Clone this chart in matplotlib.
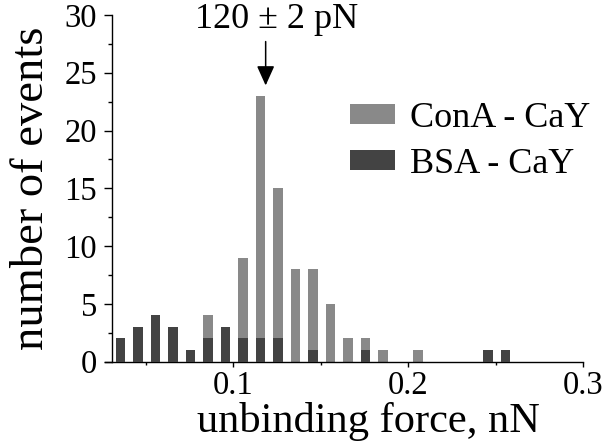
import matplotlib
matplotlib.use('Agg')
import matplotlib.pyplot as plt
from matplotlib.patches import Patch
from matplotlib.ticker import MultipleLocator

# histogram bins (nN) and counts
bin_centers = [0.0355, 0.0455, 0.0555, 0.0655, 0.0755, 0.0855, 0.0955, 0.1055,
               0.1155, 0.1255, 0.1355, 0.1455, 0.1555, 0.1655, 0.1755, 0.1855,
               0.1955, 0.2055, 0.2155, 0.2255, 0.2355, 0.2455, 0.2555]
conA_counts = [0, 0, 0, 0, 0, 4, 0, 9, 23, 15, 8, 8, 5, 2, 2, 1, 0, 1, 0, 0, 0, 0, 0]
bsa_counts = [2, 3, 4, 3, 1, 2, 3, 2, 2, 2, 0, 1, 0, 0, 1, 0, 0, 0, 0, 0, 0, 1, 1]

series_names = ['ConA - CaY', 'BSA - CaY']
peak_label = '120 \u00b1 2 pN'
peak_force = 0.1185

light = '#898989'
dark = '#434343'

plt.rcParams['font.family'] = ['Liberation Serif', 'DejaVu Serif']

fig = plt.figure(figsize=(6.06, 4.45), dpi=100)
ax = fig.add_axes([105 / 606, 1 - 361.5 / 445, (583.3 - 105) / 606, (361.5 - 15) / 445])

ax.bar(bin_centers, conA_counts, width=0.0055, color=light, edgecolor='none', zorder=2)
ax.bar(bin_centers, bsa_counts, width=0.0055, color=dark, edgecolor='none', zorder=3)

ax.set_xlim(0.0267, 0.3)
ax.set_ylim(0, 30)
ax.spines['top'].set_visible(False)
ax.spines['right'].set_visible(False)
ax.spines['left'].set_position(('data', 0.0306))
for s in ['left', 'bottom']:
    ax.spines[s].set_linewidth(1.0)

ax.xaxis.set_major_locator(MultipleLocator(0.1))
ax.xaxis.set_minor_locator(MultipleLocator(0.05))
ax.yaxis.set_major_locator(MultipleLocator(5))
ax.yaxis.set_minor_locator(MultipleLocator(2.5))
ax.set_xticks([0.1, 0.2, 0.3])
ax.set_xticklabels(['0.1', '0.2', '0.3'])

ax.tick_params(axis='y', which='major', direction='out', length=5.8, width=1.0,
               labelsize=23.5, pad=5)
ax.tick_params(axis='y', which='minor', direction='out', length=3, width=1.0)
ax.tick_params(axis='x', which='major', direction='out', length=3.6, width=1.0,
               labelsize=23.5, pad=3)
ax.tick_params(axis='x', which='minor', direction='out', length=2.5, width=1.0)

ax.set_xlabel('unbinding force, nN', fontsize=30.5)
ax.xaxis.set_label_coords(0.55, -0.116)
ax.set_ylabel('number of events', fontsize=33.5, va='center')
ax.yaxis.set_label_coords(-0.1526, 0.5)

ax.annotate('', xy=(peak_force, 23.9), xytext=(peak_force, 27.7),
            arrowprops=dict(arrowstyle='-|>,head_width=0.54,head_length=1.2',
                            color='black', lw=1.1, shrinkA=0, shrinkB=0),
            annotation_clip=False)
ax.text(0.1248, 28.87, peak_label, fontsize=26, ha='center', va='baseline', clip_on=False)

handles = [Patch(facecolor=light, edgecolor='none'), Patch(facecolor=dark, edgecolor='none')]
ax.legend(handles, series_names, loc='upper left', bbox_to_anchor=(350 / 606, 1 - 102 / 445),
          bbox_transform=fig.transFigure, frameon=False, fontsize=26,
          handlelength=1.25, handleheight=0.48, handletextpad=0.42,
          labelspacing=0.35, borderpad=0, borderaxespad=0)

fig.savefig('out.png', dpi=100)
